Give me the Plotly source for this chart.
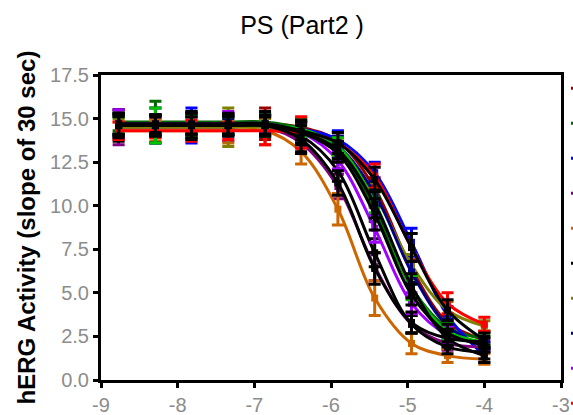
import plotly.graph_objects as go

# ---------------- data ----------------
TITLE = "PS (Part2 )"
Y_TITLE = "hERG Activity (slope of 30 sec)"

LOG_CONC = [-8.77, -8.29, -7.82, -7.34, -6.86, -6.39, -5.91, -5.43, -4.95, -4.48, -4.0]

NAMES = ["Cpd 1", "Cpd 2", "Cpd 3", "Cpd 4", "Cpd 5", "Cpd 6", "Cpd 7", "Cpd 8",
         "Cpd 9", "Cpd 10", "Cpd 11", "Cpd 12", "Cpd 13", "Cpd 14", "Cpd 15"]

COLORS = ["#990000", "#006600", "#0000ff", "#800080", "#cc6600", "#000000",
          "#808000", "#000080", "#a000ff", "#ff0000", "#00c000", "#000000",
          "#000000", "#000000", "#000000"]

ACTIVITY = [
    [14.7, 14.7, 14.7, 14.7, 14.7, 14.5, 13.7, 11.0, 6.4, 3.3, 2.3],
    [14.8, 14.8, 14.8, 14.8, 14.8, 14.4, 13.2, 9.8, 5.3, 3.0, 2.4],
    [14.6, 14.6, 14.6, 14.6, 14.6, 14.4, 13.8, 11.9, 7.9, 3.7, 1.4],
    [14.5, 14.5, 14.5, 14.5, 14.5, 13.6, 11.1, 6.5, 3.2, 2.1, 1.9],
    [14.3, 14.3, 14.3, 14.3, 14.3, 13.1, 9.8, 4.7, 2.1, 1.4, 1.2],
    [14.6, 14.6, 14.6, 14.6, 14.6, 14.0, 12.0, 7.3, 3.2, 1.9, 1.6],
    [14.5, 14.5, 14.5, 14.5, 14.5, 14.2, 13.3, 10.6, 6.6, 4.0, 3.1],
    [14.6, 14.6, 14.6, 14.6, 14.6, 14.3, 13.4, 10.7, 6.2, 3.1, 1.9],
    [14.7, 14.7, 14.7, 14.7, 14.7, 14.2, 12.6, 8.7, 4.4, 2.6, 2.1],
    [14.3, 14.3, 14.3, 14.3, 14.3, 14.2, 13.6, 11.7, 7.6, 4.4, 3.2],
    [14.6, 14.6, 14.6, 14.6, 14.6, 14.4, 13.4, 10.2, 5.3, 2.8, 2.2],
    [14.6, 14.6, 14.6, 14.6, 14.6, 14.2, 13.0, 9.5, 4.9, 2.7, 2.0],
    [14.7, 14.7, 14.7, 14.7, 14.7, 14.3, 13.6, 11.5, 7.6, 4.0, 2.3],
    [14.6, 14.6, 14.6, 14.6, 14.6, 13.8, 11.3, 6.4, 3.3, 2.4, 2.2],
    [14.6, 14.6, 14.6, 14.6, 14.6, 14.2, 13.2, 10.1, 5.4, 2.4, 1.4],
]

ERRORS = [
    [0.6, 0.5, 0.4, 0.6, 0.9, 0.5, 0.5, 0.6, 0.5, 0.4, 0.5],
    [0.5, 1.2, 0.6, 0.4, 0.5, 0.6, 0.4, 0.7, 0.5, 0.4, 0.3],
    [0.5, 0.6, 1.0, 0.5, 0.6, 0.4, 0.5, 0.6, 0.8, 0.5, 0.4],
    [1.0, 0.5, 0.6, 0.8, 0.5, 0.6, 0.7, 0.8, 0.5, 0.4, 0.3],
    [0.5, 0.6, 0.5, 0.7, 0.8, 0.7, 0.9, 1.0, 0.6, 0.4, 0.3],
    [0.9, 0.5, 0.7, 0.5, 0.6, 0.9, 0.6, 0.8, 0.5, 0.4, 0.4],
    [0.5, 0.6, 0.4, 1.1, 0.5, 0.5, 0.6, 0.7, 0.6, 0.5, 0.3],
    [0.6, 1.0, 0.5, 0.4, 0.6, 0.5, 0.6, 0.7, 0.6, 0.4, 0.3],
    [0.8, 0.5, 0.6, 0.7, 0.5, 0.6, 0.5, 0.8, 0.6, 0.5, 0.3],
    [0.5, 0.4, 0.6, 0.5, 0.8, 0.9, 0.6, 0.7, 0.8, 0.6, 0.4],
    [0.5, 1.0, 0.6, 0.5, 0.6, 0.5, 0.5, 0.6, 0.7, 0.5, 0.3],
    [0.7, 0.6, 0.8, 0.5, 0.6, 0.7, 0.5, 0.9, 0.6, 0.5, 0.4],
    [0.6, 0.5, 0.6, 0.6, 0.7, 0.5, 0.6, 0.7, 0.8, 0.6, 0.4],
    [0.5, 0.6, 0.5, 0.6, 0.5, 0.8, 0.7, 0.9, 0.6, 0.4, 0.3],
    [0.6, 0.5, 0.7, 0.6, 0.5, 0.6, 0.5, 0.8, 0.7, 0.5, 0.4],
]

X_TICKS = [-9, -8, -7, -6, -5, -4, -3]
X_TICK_TEXT = ["-9", "-8", "-7", "-6", "-5", "-4", "-3"]
Y_TICKS = [0, 2.5, 5, 7.5, 10, 12.5, 15, 17.5]
Y_TICK_TEXT = ["0.0", "2.5", "5.0", "7.5", "10.0", "12.5", "15.0", "17.5"]

# ---------------- figure ----------------
W, H = 573, 415
ML, MR, MT, MB = 101, 12, 75, 35
PW = W - ML - MR

fig = go.Figure()
for name, color, ys, es in zip(NAMES, COLORS, ACTIVITY, ERRORS):
    fig.add_trace(go.Scatter(
        x=LOG_CONC, y=ys, name=name, mode="lines+markers",
        line=dict(color=color, width=3, shape="spline", smoothing=1.0),
        marker=dict(symbol="square", size=7, color=color),
        error_y=dict(type="data", array=es, visible=True, color=color,
                     thickness=3, width=6),
    ))

tick_font = dict(family="Liberation Sans, Arial", size=20, color="#8c8c8c")
axis_common = dict(showline=True, linewidth=3, linecolor="black", mirror=True,
                   ticks="outside", ticklen=5, tickwidth=3, tickcolor="black",
                   showgrid=False, zeroline=False, tickfont=tick_font)

fig.update_xaxes(range=[-9, -3], tickvals=X_TICKS, ticktext=X_TICK_TEXT, **axis_common)
fig.update_yaxes(range=[0, 17.5], tickvals=Y_TICKS, ticktext=Y_TICK_TEXT, **axis_common)

fig.update_layout(
    width=W, height=H,
    margin=dict(l=ML, r=MR, t=MT, b=MB, pad=0, autoexpand=False),
    paper_bgcolor="white", plot_bgcolor="white",
    title=dict(text=TITLE, x=(302 - ML) / PW, xanchor="center", y=1 - 25 / H,
               yanchor="middle", xref="paper", yref="container",
               font=dict(family="Liberation Sans, Arial", size=25, color="black")),
    showlegend=True,
    legend=dict(x=(566 - ML) / PW, xanchor="left", y=1.03, yanchor="top",
                maxheight=1.0,
                font=dict(family="Liberation Sans, Arial", size=24.6, color="black"),
                bgcolor="rgba(0,0,0,0)", borderwidth=0),
    annotations=[dict(text=Y_TITLE, textangle=-90, x=(26 - ML) / PW, xref="paper",
                      y=0.5, yref="paper", xanchor="center", yanchor="middle",
                      showarrow=False,
                      font=dict(family="Liberation Sans, Arial", size=24, color="black",
                                weight="bold"))],
)

fig.write_html("out.html")
